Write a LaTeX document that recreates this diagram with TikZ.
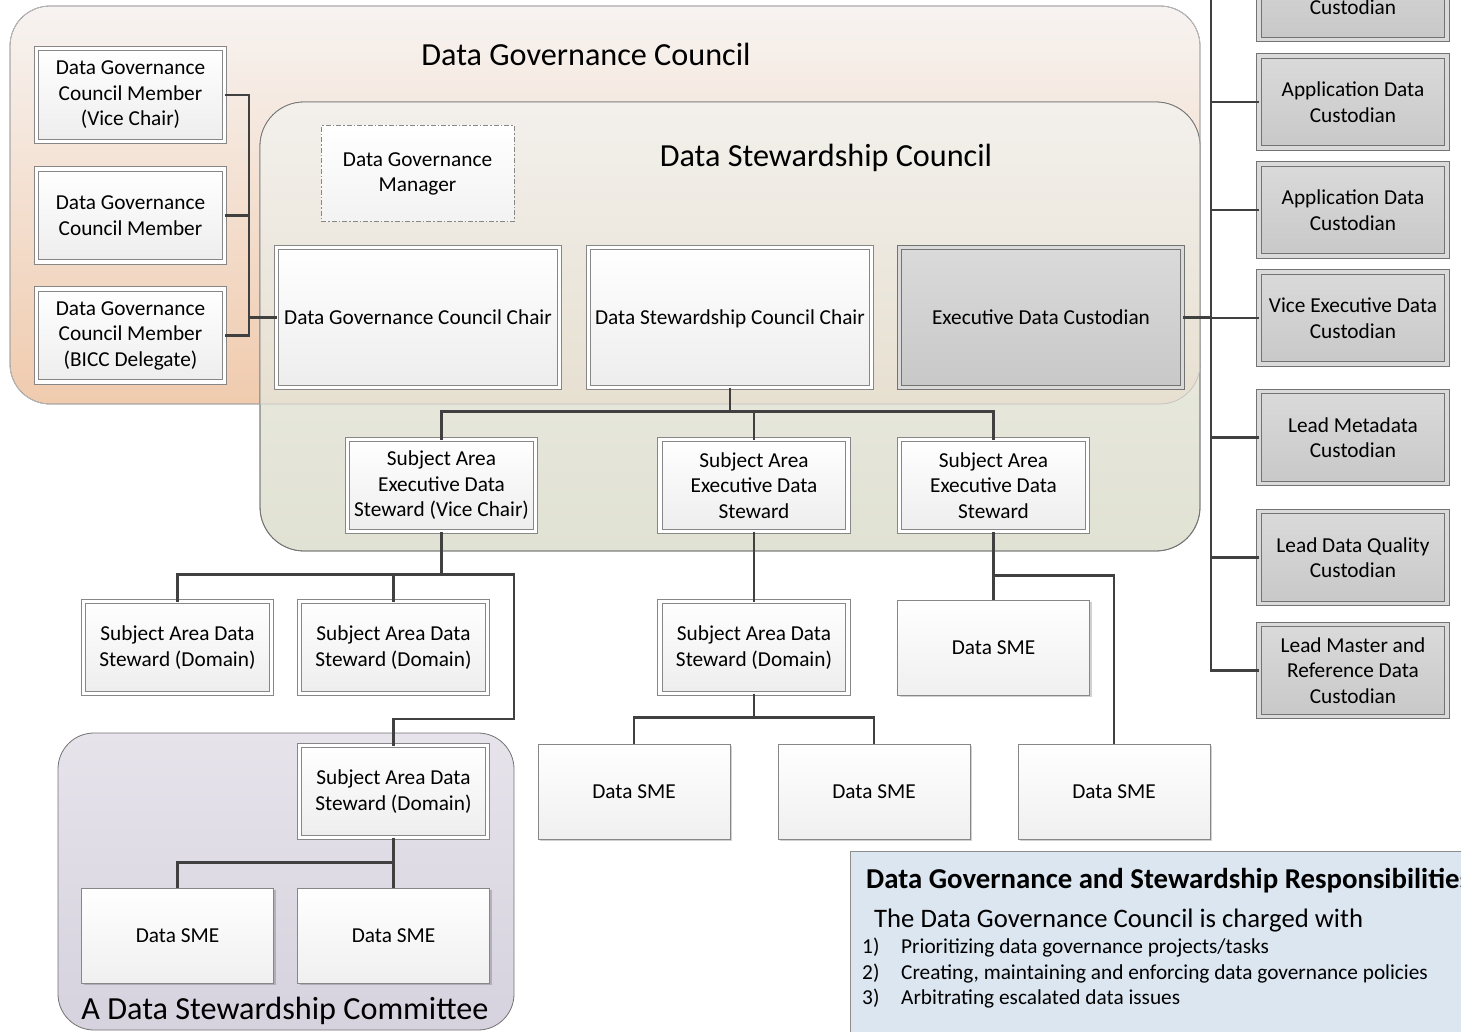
\documentclass[tikz,border=0pt]{standalone}
\usepackage{fontspec}
\setmainfont{Carlito}
\usetikzlibrary{shadows,calc}
\definecolor{dgcTop}{RGB}{247,243,241}
\definecolor{dgcBot}{RGB}{240,203,174}
\definecolor{dscTop}{RGB}{243,240,235}
\definecolor{dscBot}{RGB}{224,226,211}
\definecolor{ovTop}{RGB}{243,240,236}
\definecolor{ovBot}{RGB}{231,224,209}
\definecolor{cmtTop}{RGB}{230,227,235}
\definecolor{cmtBot}{RGB}{214,210,222}
\definecolor{panelFill}{RGB}{220,230,241}
\definecolor{lineC}{RGB}{64,64,64}
\definecolor{boxLine}{RGB}{135,135,135}
\definecolor{grayTop}{RGB}{218,218,218}
\definecolor{grayBot}{RGB}{200,200,200}
\begin{document}
\begin{tikzpicture}[x=1pt,y=-1pt,
  conn/.style={draw=lineC, line width=2.8pt},
  boxbase/.style={rectangle, align=center, inner sep=2pt, outer sep=0pt,
     font=\fontsize{21.3}{25.5}\selectfont},
  shad/.style={drop shadow={shadow xshift=2pt, shadow yshift=-2pt, fill=black, opacity=0.18}},
  dbox/.style={boxbase, shad, draw=boxLine, line width=0.9pt, double=white, double distance=3.6pt, top color=white, bottom color=black!7},
  gbox/.style={boxbase, shad, draw=boxLine!85!black, line width=0.9pt, double=grayTop, double distance=3.6pt, top color=grayTop, bottom color=grayBot},
  sbox/.style={boxbase, shad, draw=boxLine, line width=1pt, top color=white, bottom color=black!6},
  mgrbox/.style={boxbase, draw=boxLine, line width=1pt, dash pattern=on 5pt off 2pt on 1.5pt off 2pt, top color=white, bottom color=black!5},
  smallsz/.style={minimum width=188pt, minimum height=92pt},
  bigsz/.style={minimum width=283pt, minimum height=140pt, text height=13.7pt, text depth=0pt},
  smesz/.style={minimum width=192pt, minimum height=95pt},
  bigtitle/.style={font=\fontsize{32.2}{38}\selectfont, inner sep=0pt},
]
\clip (0,0) rectangle (1461,1032);
\fill[white] (0,0) rectangle (1461,1032);

% Data Governance Council container
\draw[draw=black!55, line width=0.8pt, top color=dgcTop, bottom color=dgcBot, rounded corners=40pt] (10,6) rectangle (1200,404);
% Data Stewardship Council container
\draw[draw=black!55, line width=0.8pt, top color=dscTop, bottom color=dscBot, rounded corners=44pt] (260,102) rectangle (1200,551);
\begin{scope}
  \clip[rounded corners=44pt] (260,102) rectangle (1200,551);
  \shade[top color=ovTop, bottom color=ovBot, rounded corners=40pt] (10,102) rectangle (1200,404);
\end{scope}
\draw[draw=black!55, line width=0.8pt, rounded corners=44pt] (260,102) rectangle (1200,551);
\draw[draw=black!25, line width=0.7pt, rounded corners=40pt] (10,6) rectangle (1200,404);

% Committee container
\draw[draw=black!55, line width=0.8pt, top color=cmtTop, bottom color=cmtBot, rounded corners=36pt] (58,733) rectangle (514,1030);

% Titles
\node[bigtitle] (tdgc) at (586,54) {Data Governance Council};
\node[bigtitle] (tdsc) at (826,158) {Data Stewardship Council};
\node[bigtitle, anchor=base] (tcmt) at (285,1019) {A Data Stewardship Committee};

% Governance council members
\node[dbox, smallsz, minimum height=93pt] (m1) at (130.5,95) {Data Governance\\Council Member\\(Vice Chair)};
\node[dbox, smallsz, minimum height=93pt] (m2) at (130.5,215.5) {Data Governance\\Council Member};
\node[dbox, smallsz, minimum height=93pt] (m3) at (130.5,335.5) {Data Governance\\Council Member\\(BICC Delegate)};

% Manager
\node[mgrbox, minimum width=193pt, minimum height=96pt] (mgr) at (417.5,174) {Data Governance\\Manager};

% Chairs
\node[dbox, bigsz] (dgcc) at (418,317.5) {Data Governance Council Chair};
\node[dbox, bigsz] (dscc) at (730,317.5) {Data Stewardship Council Chair};
\node[gbox, bigsz] (edc) at (1041,317.5) {Executive Data Custodian};

% Subject area executive stewards
\node[dbox, smallsz] (sae1) at (441.5,485.5) {Subject Area\\Executive Data\\Steward (Vice Chair)};
\node[dbox, smallsz] (sae2) at (754,485.5) {Subject Area\\Executive Data\\Steward};
\node[dbox, smallsz] (sae3) at (993.5,485.5) {Subject Area\\Executive Data\\Steward};

% Subject area data stewards
\node[dbox, smallsz] (sds1) at (177.5,647.5) {Subject Area Data\\Steward (Domain)};
\node[dbox, smallsz] (sds2) at (393.5,647.5) {Subject Area Data\\Steward (Domain)};
\node[dbox, smallsz] (sds3) at (754,647.5) {Subject Area Data\\Steward (Domain)};
\node[sbox, smesz] (smeR) at (993.5,647.5) {Data SME};

% Data SMEs
\node[sbox, smesz] (sme2) at (634,791.5) {Data SME};
\node[sbox, smesz] (sme3) at (874,791.5) {Data SME};
\node[sbox, smesz] (sme4) at (1114,791.5) {Data SME};

% Committee
\node[dbox, smallsz] (cs) at (393.5,791.5) {Subject Area Data\\Steward (Domain)};
\node[sbox, smesz] (csme1) at (177.5,935.5) {Data SME};
\node[sbox, smesz] (csme2) at (393.5,935.5) {Data SME};

% Right column custodians
\node[gbox, smallsz, minimum height=93pt] (c0) at (1353,-7) {};
\node[font=\fontsize{21.3}{25.5}\selectfont, inner sep=0pt] (c0t) at (1353,7) {Custodian};
\node[gbox, smallsz] (c1) at (1353,102) {Application Data\\Custodian};
\node[gbox, smallsz] (c2) at (1353,210) {Application Data\\Custodian};
\node[gbox, smallsz] (c3) at (1353,318) {Vice Executive Data\\Custodian};
\node[gbox, smallsz] (c4) at (1353,437.5) {Lead Metadata\\Custodian};
\node[gbox, smallsz] (c5) at (1353,557.5) {Lead Data Quality\\Custodian};
\node[gbox, smallsz] (c6) at (1353,670.5) {Lead Master and\\Reference Data\\Custodian};

% Connectors: left bus
\coordinate (lbus) at (249,0);
\draw[conn] (m1.east) -- (m1.east -| lbus) -- (m3.east -| lbus) -- (m3.east);
\draw[conn] (m2.east) -- (m2.east -| lbus);
\draw[conn] (lbus |- dgcc.west) -- (dgcc.west);

% Right bus
\coordinate (rbus) at (1211,-5);
\draw[conn] (rbus) -- (rbus |- c6.west) -- (c6.west);
\draw[conn] (edc.east) -- (rbus |- edc.east);
\foreach \c in {c1,c2,c3,c4,c5} {
  \draw[conn] (rbus |- \c.west) -- (\c.west);
}

% Stewardship chair to executive stewards
\draw[conn] (dscc.south) -- ++(0,24) coordinate (j0) -| (sae1.north);
\draw[conn] (j0) -| (sae2.north);
\draw[conn] (j0) -| (sae3.north);

% Vice chair exec steward
\draw[conn] (sae1.south) -- ++(0,43) coordinate (j1) -| (sds1.north);
\draw[conn] (j1) -| (sds2.north);
\coordinate (cbend) at (514,719);
\draw[conn] (j1) -| (cbend) -| (cs.north);

% Middle
\draw[conn] (sae2.south) -- (sds3.north);
\draw[conn] (sds3.south) -- ++(0,24) coordinate (j2) -| (sme2.north);
\draw[conn] (j2) -| (sme3.north);

% Right
\draw[conn] (sae3.south) -- (smeR.north);
\draw[conn] ($(sae3.south)+(0,44)$) -| (sme4.north);

% Committee
\draw[conn] (cs.south) -- ++(0,25) coordinate (j3) -| (csme1.north);
\draw[conn] (j3) -- (csme2.north);

% Responsibilities panel
\node[draw=black!45, line width=1pt, fill=panelFill, minimum width=640pt, minimum height=220pt, anchor=north west, inner sep=0pt] (panel) at (850,851) {};
\node[anchor=base west, font=\bfseries\fontsize{28.8}{34}\selectfont, inner sep=0pt] (ptitle) at (866,888) {Data Governance and Stewardship Responsibilities};
\node[anchor=base west, font=\fontsize{26.7}{31}\selectfont, inner sep=0pt] (pintro) at (874,927) {The Data Governance Council is charged with};
\node[anchor=base west, font=\fontsize{21.3}{25}\selectfont, inner sep=0pt] (p1) at (862,953) {\makebox[39pt][l]{1)}Prioritizing data governance projects/tasks};
\node[anchor=base west, font=\fontsize{21.3}{25}\selectfont, inner sep=0pt] (p2) at (862,979) {\makebox[39pt][l]{2)}Creating, maintaining and enforcing data governance policies};
\node[anchor=base west, font=\fontsize{21.3}{25}\selectfont, inner sep=0pt] (p3) at (862,1004) {\makebox[39pt][l]{3)}Arbitrating escalated data issues};
\end{tikzpicture}
\end{document}
